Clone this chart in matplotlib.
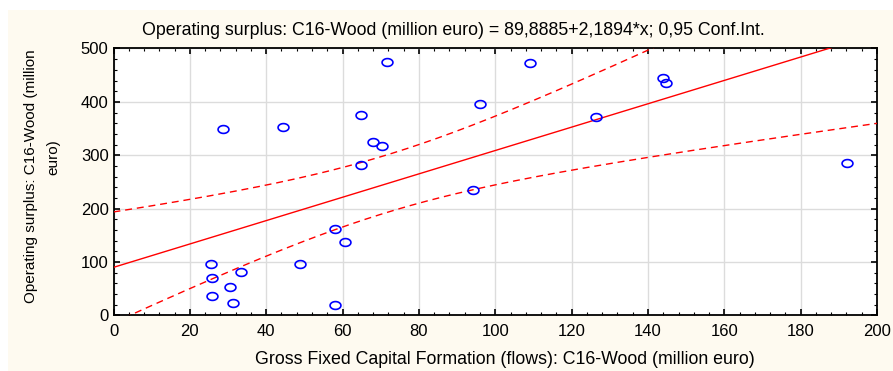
import matplotlib.pyplot as plt
import numpy as np
from matplotlib.patches import Rectangle
from matplotlib.path import Path
from matplotlib.ticker import MultipleLocator

# data
gfcf = [28.8, 44.5, 71.6, 64.8, 68.1, 70.3, 64.8,
        25.5, 25.8, 25.8, 30.6, 31.4, 33.3, 48.9, 58.1, 60.7, 58.1,
        109.1, 96.0, 126.5, 144.0, 144.8, 94.2, 192.1]
surplus = [349, 353, 475, 376, 324, 318, 281,
           97, 70, 37, 53, 24, 81, 97, 161, 137, 19,
           473, 396, 371, 445, 436, 234, 285]

intercept = 89.8885
slope = 2.1894
t_crit = 2.074  # t(0.975, df=22)

x_ticks = [0, 20, 40, 60, 80, 100, 120, 140, 160, 180, 200]
y_ticks = [0, 100, 200, 300, 400, 500]

title = 'Operating surplus: C16-Wood (million euro) = 89,8885+2,1894*x; 0,95 Conf.Int.'
xlabel = 'Gross Fixed Capital Formation (flows): C16-Wood (million euro)'
ylabel1 = 'Operating surplus: C16-Wood (million'
ylabel2 = 'euro)'


def conf_band(x, xs, ys):
    """95% confidence band of the mean around the given line"""
    xs = np.asarray(xs, float)
    ys = np.asarray(ys, float)
    n = len(xs)
    resid = ys - (intercept + slope * xs)
    s = np.sqrt(np.sum(resid ** 2) / (n - 2))
    sxx = np.sum((xs - xs.mean()) ** 2)
    half = t_crit * s * np.sqrt(1 / n + (x - xs.mean()) ** 2 / sxx)
    fit = intercept + slope * x
    return fit - half, fit + half


def main():
    plt.rcParams['font.family'] = ['Liberation Sans', 'DejaVu Sans']
    fig = plt.figure(figsize=(8.93, 3.71), dpi=100)
    fig.patch.set_facecolor('white')
    fig.patches.append(Rectangle((8 / 893, 0), 1, 1 - 10 / 371,
                                 transform=fig.transFigure,
                                 facecolor='#FEFAF0', edgecolor='none',
                                 zorder=-10))

    ax = fig.add_axes([0.1271, 0.1501, 0.8550, 0.7192])
    ax.set_facecolor('white')

    # slightly flattened circle like the original marker
    t = np.linspace(0, 2 * np.pi, 60)
    ell = Path(np.column_stack([np.cos(t), 0.72 * np.sin(t)]), closed=True)

    xx = np.linspace(0, 200, 201)
    lo, hi = conf_band(xx, gfcf, surplus)
    ax.plot(xx, intercept + slope * xx, color='#FF0000', lw=1.0, zorder=3)
    ax.plot(xx, lo, color='#FF0000', lw=1.0, ls=(0, (5, 3.5)), zorder=3)
    ax.plot(xx, hi, color='#FF0000', lw=1.0, ls=(0, (5, 3.5)), zorder=3)
    ax.plot(gfcf, surplus, ls='none', marker=ell, markersize=7.8,
            markerfacecolor='none', markeredgecolor='#0000FF',
            markeredgewidth=1.2, zorder=4)

    ax.set_xlim(0, 200)
    ax.set_ylim(0, 500)
    ax.set_xticks(x_ticks)
    ax.set_yticks(y_ticks)
    ax.xaxis.set_minor_locator(MultipleLocator(4))
    ax.yaxis.set_minor_locator(MultipleLocator(20))
    ax.tick_params(which='both', direction='in', top=True, right=True,
                   labelsize=12, color='black')
    ax.tick_params(which='major', length=4, width=1.2)
    ax.tick_params(which='minor', length=2.5, width=0.8)
    ax.tick_params(axis='x', pad=6)
    ax.grid(True, which='major', color='#DCDCDC', lw=1.0, zorder=0)
    ax.set_axisbelow(True)
    for sp in ax.spines.values():
        sp.set_linewidth(1.3)
        sp.set_color('black')

    fig.text(0.508, 0.919, title, ha='center', va='center', fontsize=12.8)
    fig.text(0.565, 0.032, xlabel, ha='center', va='center', fontsize=12.8)
    fig.text(31 / 893, 1 - 176 / 371, ylabel1, ha='center', va='center',
             fontsize=11, rotation=90)
    fig.text(53 / 893, 1 - 157 / 371, ylabel2, ha='center', va='center',
             fontsize=11, rotation=90)

    plt.savefig('out.png', dpi=100)


if __name__ == "__main__":
    main()
